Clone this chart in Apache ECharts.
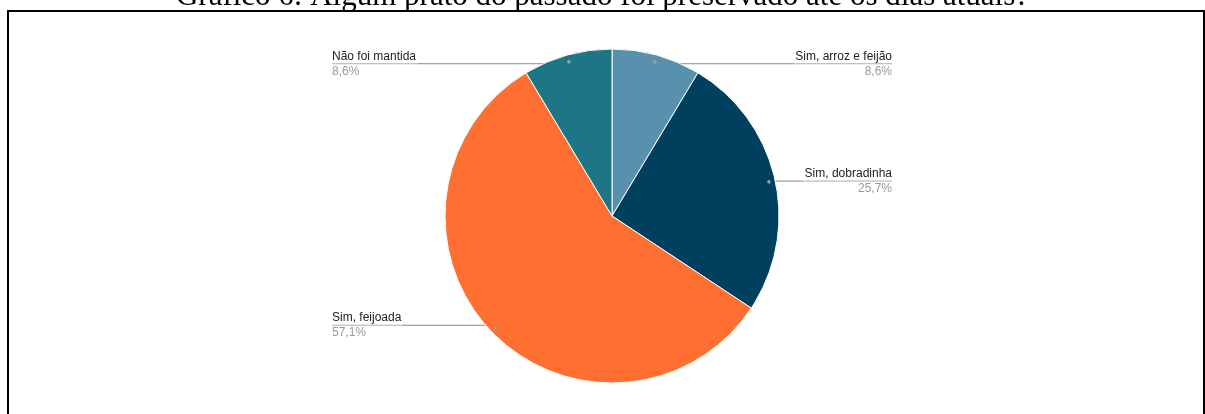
<!DOCTYPE html>
<html>
<head>
<meta charset="utf-8">
<script src="https://cdn.jsdelivr.net/npm/echarts@6/dist/echarts.min.js"></script>
<style>
  html, body { margin: 0; padding: 0; background: #fff; }
  #chart { width: 1205px; height: 414px; }
</style>
</head>
<body>
<div id="chart"></div>
<script>
const titleText = 'Gráfico 6: Algum prato do passado foi preservado até os dias atuais?';
const categories = ['Sim, arroz e feijão', 'Sim, dobradinha', 'Sim, feijoada', 'Não foi mantida'];
const values = [8.6, 25.7, 57.1, 8.6];
const colors = ['#5891AD', '#00405F', '#FF6F31', '#1C7685'];

const data = categories.map((c, i) => ({ name: c, value: values[i], itemStyle: { color: colors[i] } }));
const ghostData = categories.map((c, i) => ({ name: c, value: values[i] }));

const chart = echarts.init(document.getElementById('chart'));
const fmtPct = p => p.percent.toFixed(1).replace('.', ',') + '%';

chart.setOption({
  animation: false,
  title: {
    text: titleText,
    left: 'center',
    top: -24,
    textStyle: { fontFamily: 'Liberation Serif', fontSize: 31, fontWeight: 'normal', color: '#000' }
  },
  graphic: [
    { type: 'line', shape: { x1: 8, y1: 11, x2: 1205, y2: 11 }, style: { stroke: '#000', lineWidth: 2 } },
    { type: 'line', shape: { x1: 8, y1: 10, x2: 8, y2: 414 }, style: { stroke: '#000', lineWidth: 2 } },
    { type: 'line', shape: { x1: 1204, y1: 10, x2: 1204, y2: 414 }, style: { stroke: '#000', lineWidth: 2 } }
  ],
  series: [
    {
      type: 'pie',
      left: 19, right: 0, top: 0, bottom: 0,
      center: ['50%', 216],
      radius: 167,
      startAngle: 90,
      percentPrecision: 1,
      silent: true,
      itemStyle: { borderColor: '#fff', borderWidth: 1 },
      label: { show: false },
      labelLine: { show: false },
      data: data
    },
    {
      type: 'pie',
      left: 19, right: 0, top: 0, bottom: 0,
      center: ['50%', 216],
      radius: 158,
      startAngle: 90,
      percentPrecision: 1,
      silent: true,
      itemStyle: { color: 'rgba(0,0,0,0)' },
      label: {
        show: true,
        position: 'outside',
        alignTo: 'edge',
        edgeDistance: 313,
        distanceToLabelLine: 0,
        formatter: p => '{n|' + p.name + '}\n{hr|}\n{p|' + fmtPct(p) + '}',
        rich: {
          n: { fontFamily: 'Liberation Sans', fontSize: 12, color: '#222', lineHeight: 15 },
          hr: { borderColor: '#9e9e9e', borderWidth: 0.5, width: '100%', height: 0 },
          p: { fontFamily: 'Liberation Sans', fontSize: 12, color: '#999', lineHeight: 15 }
        }
      },
      labelLine: { show: true, length: 0, length2: 10, lineStyle: { color: '#8a8a8a', width: 1 } },
      data: ghostData
    },
    {
      type: 'pie',
      left: 19, right: 0, top: 0, bottom: 0,
      center: ['50%', 216],
      radius: [154, 162],
      startAngle: 90,
      silent: true,
      itemStyle: { color: 'rgba(0,0,0,0)' },
      label: {
        show: true,
        position: 'inside',
        formatter: '●',
        fontSize: 8,
        offset: [0, 1],
        color: '#9e9e9e'
      },
      labelLine: { show: false },
      data: ghostData
    }
  ]
});
</script>
</body>
</html>
